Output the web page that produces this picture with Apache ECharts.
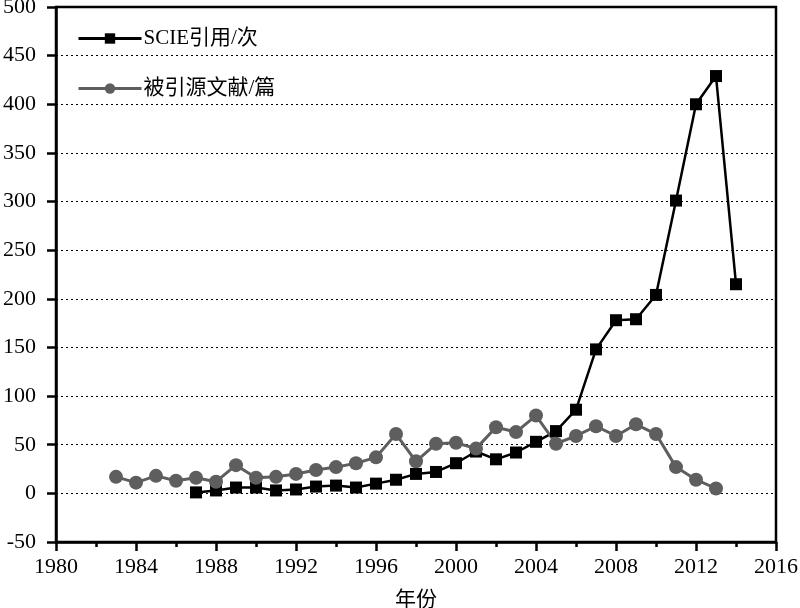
<!DOCTYPE html>
<html>
<head>
<meta charset="utf-8">
<script src="https://cdn.jsdelivr.net/npm/echarts@6/dist/echarts.min.js"></script>
<style>
html,body{margin:0;padding:0;background:#fff;}
#chart{width:800px;height:608px;}
</style>
</head>
<body>
<div id="chart"></div>
<script>
var scieYears = [1987,1988,1989,1990,1991,1992,1993,1994,1995,1996,1997,1998,1999,2000,2001,2002,2003,2004,2005,2006,2007,2008,2009,2010,2011,2012,2013,2014];
var scieValues = [1,3,6,6,3,4,7,8,6,10,14,20,22,31,43,35,42,53,64,86,148,178,179,204,301,400,429,215];
var srcYears = [1983,1984,1985,1986,1987,1988,1989,1990,1991,1992,1993,1994,1995,1996,1997,1998,1999,2000,2001,2002,2003,2004,2005,2006,2007,2008,2009,2010,2011,2012,2013];
var srcValues = [17,11,18,13,16,12,29,16,17,20,24,27,31,37,61,33,51,52,46,68,63,80,51,59,69,59,71,61,27,14,5];
var seriesNames = ['SCIE引用/次', '被引源文献/篇'];
var xAxisName = '年份';

function pairs(xs, ys){ return xs.map(function(x,i){ return [x, ys[i]]; }); }

var FONT = '"Liberation Serif", "Noto Sans CJK SC", serif';
var chart = echarts.init(document.getElementById('chart'), null, {renderer:'canvas'});
chart.setOption({
  animation: false,
  backgroundColor: '#fff',
  grid: {left: 56, right: 24, top: 7, bottom: 66, show: true, borderColor: '#000', borderWidth: 2.5, backgroundColor: 'transparent', outerBoundsMode: 'none', containLabel: false},
  legend: {
    orient: 'vertical', left: 72, top: 23, itemWidth: 63, itemHeight: 13, itemGap: 29,
    textStyle: {fontFamily: FONT, fontSize: 21, color: '#000', lineHeight: 20, padding: [0, 0, 0, -3]},
    lineStyle: {width: 3},
    data: seriesNames
  },
  xAxis: {
    type: 'value', min: 1980, max: 2016, interval: 4,
    name: xAxisName, nameLocation: 'middle', nameGap: 48,
    nameTextStyle: {fontFamily: FONT, fontSize: 21, color: '#000'},
    axisLine: {onZero: false, lineStyle: {color: '#000', width: 2.5}},
    axisTick: {show: true, length: 9, lineStyle: {color: '#000', width: 2.5}},
    minorTick: {show: true, splitNumber: 2, length: 5, lineStyle: {color: '#000', width: 2.5}},
    axisLabel: {fontFamily: FONT, fontSize: 22, color: '#000', margin: 14, formatter: function(v){ return String(v); }},
    splitLine: {show: false}
  },
  yAxis: {
    type: 'value', min: -50, max: 500, interval: 50,
    axisLine: {show: true, onZero: false, lineStyle: {color: '#000', width: 2.5}},
    axisTick: {show: true, length: 9, lineStyle: {color: '#000', width: 2.5}},
    axisLabel: {fontFamily: FONT, fontSize: 22, color: '#000', margin: 20, formatter: function(v){ return String(v); }},
    splitLine: {show: true, lineStyle: {color: '#000', type: [2, 3], width: 1}}
  },
  series: [
    {
      name: seriesNames[0], type: 'line', data: pairs(scieYears, scieValues),
      symbol: 'rect', symbolSize: 12,
      lineStyle: {color: '#000', width: 2.5},
      itemStyle: {color: '#000', borderWidth: 0}
    },
    {
      name: seriesNames[1], type: 'line', data: pairs(srcYears, srcValues),
      symbol: 'circle', symbolSize: 14,
      lineStyle: {color: '#5e5e5e', width: 3},
      itemStyle: {color: '#5e5e5e', borderWidth: 0}
    }
  ]
});
</script>
</body>
</html>
